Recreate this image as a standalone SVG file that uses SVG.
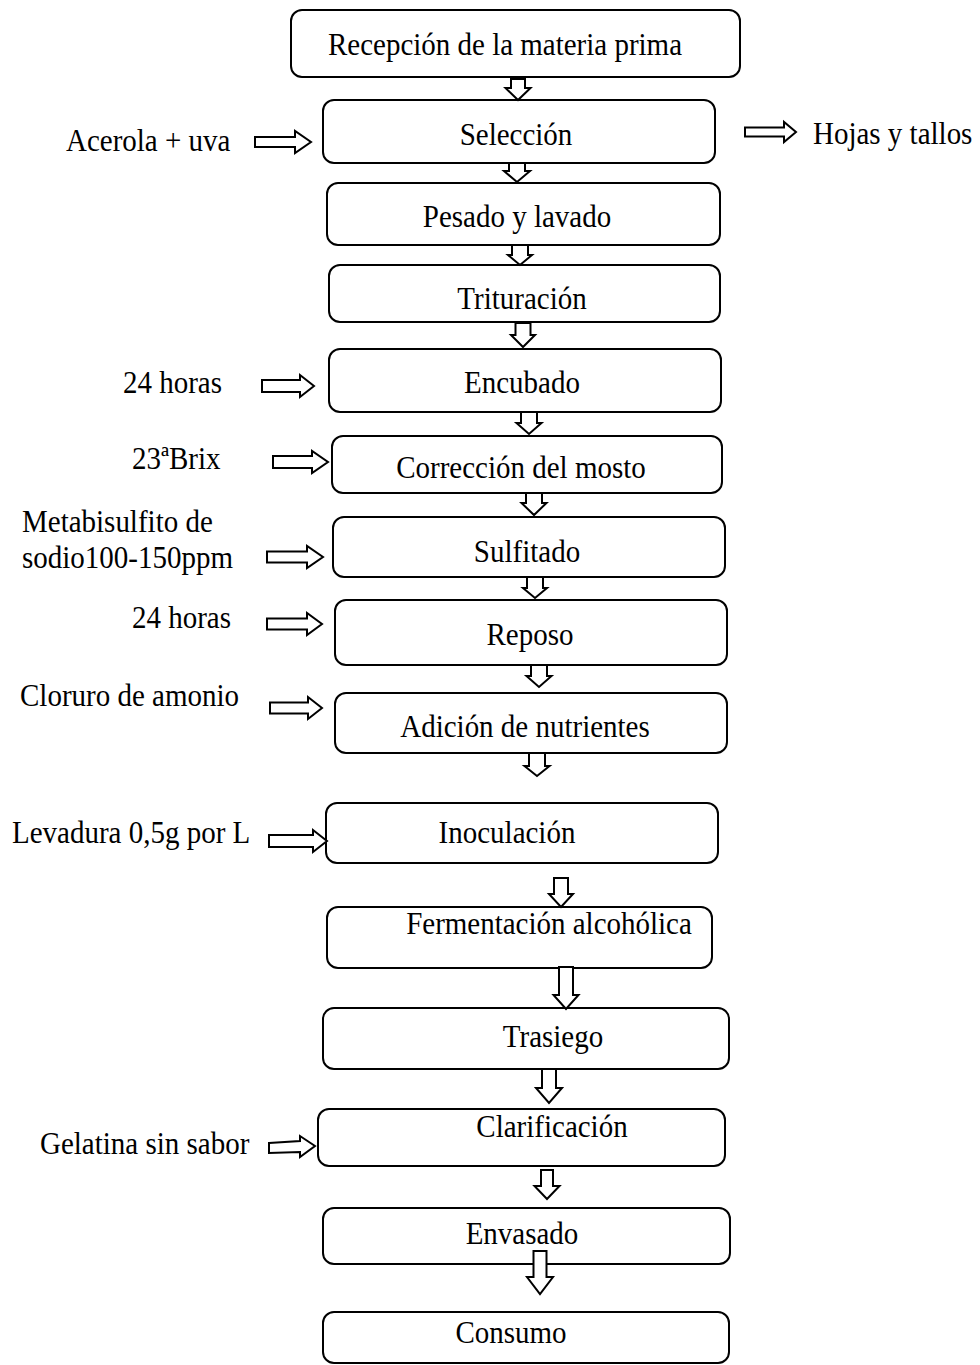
<svg xmlns="http://www.w3.org/2000/svg" width="980" height="1365" viewBox="0 0 980 1365">
<style>
.box{fill:#fff;stroke:#000;stroke-width:2}
.t{font-family:"Liberation Serif","Times New Roman",serif;font-size:29px;fill:#000}
.c{text-anchor:middle}
.ar{fill:#fff;stroke:#000;stroke-width:2;stroke-linejoin:miter}
</style>
<rect width="980" height="1365" fill="#fff"/>
<g id="n1"><rect class="box" x="291" y="10" width="449" height="67" rx="11"/><text class="t c" transform="translate(505 55) scale(1 1.12)">Recepción de la materia prima</text></g>
<g id="n2"><rect class="box" x="323" y="100" width="392" height="63" rx="11"/><text class="t c" transform="translate(516 145) scale(1 1.1)">Selección</text></g>
<g id="n3"><rect class="box" x="327" y="183" width="393" height="62" rx="11"/><text class="t c" transform="translate(517 227) scale(1 1.1)">Pesado y lavado</text></g>
<g id="n4"><rect class="box" x="329" y="265" width="391" height="57" rx="11"/><text class="t c" transform="translate(522 309) scale(1 1.1)">Trituración</text></g>
<g id="n5"><rect class="box" x="329" y="349" width="392" height="63" rx="11"/><text class="t c" transform="translate(522 393) scale(1 1.1)">Encubado</text></g>
<g id="n6"><rect class="box" x="332" y="436" width="390" height="57" rx="11"/><text class="t c" transform="translate(521 478) scale(1 1.1)">Corrección del mosto</text></g>
<g id="n7"><rect class="box" x="333" y="517" width="392" height="60" rx="11"/><text class="t c" transform="translate(527 562) scale(1 1.1)">Sulfitado</text></g>
<g id="n8"><rect class="box" x="335" y="600" width="392" height="65" rx="11"/><text class="t c" transform="translate(530 645) scale(1 1.1)">Reposo</text></g>
<g id="n9"><rect class="box" x="335" y="693" width="392" height="60" rx="11"/><text class="t c" transform="translate(525 737) scale(1 1.1)">Adición de nutrientes</text></g>
<g id="n10"><rect class="box" x="326" y="803" width="392" height="60" rx="11"/><text class="t c" transform="translate(507 843) scale(1 1.1)">Inoculación</text></g>
<g id="n11"><rect class="box" x="327" y="907" width="385" height="61" rx="11"/><text class="t c" transform="translate(549 934) scale(1 1.1)">Fermentación alcohólica</text></g>
<g id="n12"><rect class="box" x="323" y="1008" width="406" height="61" rx="11"/><text class="t c" transform="translate(553 1047) scale(1 1.1)">Trasiego</text></g>
<g id="n13"><rect class="box" x="318" y="1109" width="407" height="57" rx="11"/><text class="t c" transform="translate(552 1137) scale(1 1.1)">Clarificación</text></g>
<g id="n14"><rect class="box" x="323" y="1208" width="407" height="56" rx="11"/><text class="t c" transform="translate(522 1244) scale(1 1.1)">Envasado</text></g>
<g id="n15"><rect class="box" x="323" y="1312" width="406" height="51" rx="11"/><text class="t c" transform="translate(511 1343) scale(1 1.1)">Consumo</text></g>
<g id="labels">
<text class="t" transform="translate(66 151) scale(1 1.1)">Acerola + uva</text>
<text class="t" transform="translate(813 144) scale(1 1.1)">Hojas y tallos</text>
<text class="t" transform="translate(123 393) scale(1 1.1)">24 horas</text>
<text class="t" transform="translate(132 469) scale(1 1.1)">23ªBrix</text>
<text class="t" transform="translate(22 532) scale(1 1.1)">Metabisulfito de</text>
<text class="t" transform="translate(22 568) scale(1 1.1)">sodio100-150ppm</text>
<text class="t" transform="translate(132 628) scale(1 1.1)">24 horas</text>
<text class="t" transform="translate(20 706) scale(1 1.1)">Cloruro de amonio</text>
<text class="t" transform="translate(12 843) scale(1 1.1)">Levadura 0,5g por L</text>
<text class="t" transform="translate(40 1154) scale(1 1.1)">Gelatina sin sabor</text>
</g>
<g id="connectors">
<path class="ar" d="M511,79 H525 V88 H530.5 L518,100 L505.5,88 H511 Z"/>
<path class="ar" d="M509,163 H525 V171 H530 L517,182 L504,171 H509 Z"/>
<path class="ar" d="M512,245 H528 V255 H532 L520,265 L508,255 H512 Z"/>
<path class="ar" d="M515.5,323 H530.5 V335 H535 L523,347 L511,335 H515.5 Z"/>
<path class="ar" d="M521,412 H537 V423 H541.5 L529,434 L516.5,423 H521 Z"/>
<path class="ar" d="M526,493 H542 V503 H546.5 L534,515 L521.5,503 H526 Z"/>
<path class="ar" d="M527,577 H543 V588 H547 L535,598 L523,588 H527 Z"/>
<path class="ar" d="M531,665 H547 V676 H551.5 L539,687 L526.5,676 H531 Z"/>
<path class="ar" d="M529,753 H545 V766 H549.5 L537,776 L524.5,766 H529 Z"/>
<path class="ar" d="M554,878 H568 V894 H573 L561,907 L549,894 H554 Z"/>
<path class="ar" d="M559,967 H573 V995 H578.5 L566,1009 L553.5,995 H559 Z"/>
<path class="ar" d="M542,1069 H556 V1088 H562 L549,1103 L536,1088 H542 Z"/>
<path class="ar" d="M541,1170 H553 V1186 H559.5 L547,1199 L534.5,1186 H541 Z"/>
<path class="ar" d="M533.5,1251 H546.5 V1277 H553 L540,1294 L527,1277 H533.5 Z"/>
<path class="ar" d="M255,137 H295 V131 L311,142 L295,153 V147 H255 Z"/>
<path class="ar" d="M745,127.5 H784 V122 L796,132 L784,142 V136.5 H745 Z"/>
<path class="ar" d="M262,380 H300 V375 L314,386 L300,397 V392 H262 Z"/>
<path class="ar" d="M273,456 H312 V451 L328,462 L312,473 V468 H273 Z"/>
<path class="ar" d="M267,551.5 H307 V546 L323,557 L307,568 V562.5 H267 Z"/>
<path class="ar" d="M267,618.5 H307 V613 L322,624 L307,635 V629.5 H267 Z"/>
<path class="ar" d="M270,702.5 H308 V697 L322,708 L308,719 V713.5 H270 Z"/>
<path class="ar" d="M269,835 H313 V830 L327,841 L313,852 V847 H269 Z"/>
<path class="ar" d="M269,1143 L300,1141 V1136 L315,1146 L300,1157 V1152 L269,1153 Z"/>
</g>
</svg>
